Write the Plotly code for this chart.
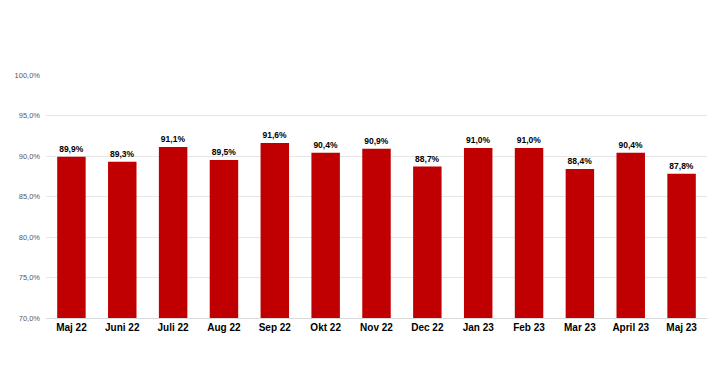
import plotly.graph_objects as go

months = ["Maj 22", "Juni 22", "Juli 22", "Aug 22", "Sep 22", "Okt 22", "Nov 22",
          "Dec 22", "Jan 23", "Feb 23", "Mar 23", "April 23", "Maj 23"]
values = [89.9, 89.3, 91.1, 89.5, 91.6, 90.4, 90.9, 88.7, 91.0, 91.0, 88.4, 90.4, 87.8]
tick_vals = [70, 75, 80, 85, 90, 95, 100]

labels = [f"{v:.1f}%".replace(".", ",") for v in values]
x = list(range(len(months)))

fig = go.Figure(go.Bar(
    x=x, y=values, marker=dict(color="#C00000", line=dict(width=0)),
    text=labels, textposition="outside", cliponaxis=False,
    textfont=dict(family="Liberation Sans, Arial", size=8.5, color="#000000"),
    texttemplate="<b>%{text}</b>", width=0.56,
))

# page body has a default 8px margin, so the figure is sized to fit the window
fig.update_layout(
    width=712, height=366, margin=dict(l=38, r=13, t=67, b=56, autoexpand=False),
    paper_bgcolor="white", plot_bgcolor="white", showlegend=False,
    font=dict(family="Liberation Sans, Arial"),
    xaxis=dict(tickmode="array", tickvals=x, ticktext=[f"<b>{m}</b>" for m in months],
               range=[-0.5, len(months) - 0.5], showgrid=False, zeroline=False,
               tickfont=dict(size=10, color="#000000"), ticks="", showline=True,
               linecolor="#D9D9D9", linewidth=1, automargin=False),
    yaxis=dict(range=[70, 100], tickvals=tick_vals,
               ticktext=[f"{t:.1f}%".replace(".", ",") for t in tick_vals],
               showgrid=True, gridcolor="#E6E6E6", gridwidth=1, zeroline=False,
               tickfont=dict(size=7.5, color="#595959"), ticks="", ticklabelstandoff=5,
               automargin=False),
)

fig.write_html("out.html")
